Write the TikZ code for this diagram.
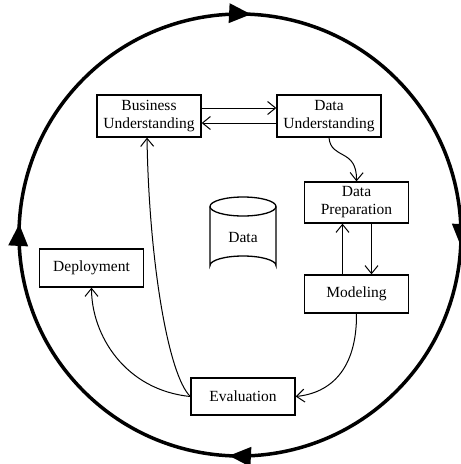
\documentclass[tikz,border=0pt]{standalone}
\usepackage{fontspec}
\setmainfont{Liberation Serif}
\usetikzlibrary{arrows.meta,decorations.markings}
\tikzset{ringtip/.tip={Triangle[length=22pt,width=19pt]}}
\begin{document}
\begin{tikzpicture}[x=1pt,y=-1pt,
  box/.style={draw, line width=1.3pt, minimum width=104pt, inner sep=0pt, align=center,
    font=\fontsize{15.5}{18}\selectfont},
  conn/.style={line width=1pt, -{Straight Barb[length=8pt,width=13pt,line width=1pt]}},
  ring/.style={line width=3.5pt, postaction={decorate}, decoration={markings,
    mark=at position 0.133 with {\arrow{ringtip}},
    mark=at position 0.383 with {\arrow{ringtip}},
    mark=at position 0.633 with {\arrow{ringtip}},
    mark=at position 0.883 with {\arrow{ringtip}}}}]
\useasboundingbox (0,0) rectangle (461,464);
\fill[white] (0,0) rectangle (461,464);
% outer cycle
\coordinate (c) at (240,235);
\draw[ring] (c) ++(45:221) arc[start angle=45, end angle=405, radius=221];
% boxes
\node[box, minimum height=42pt] (bu) at (149,116) {Business\\Understanding};
\node[box, minimum height=42pt] (du) at (329,116) {Data\\Understanding};
\node[box, minimum height=41pt] (dp) at (356.5,202.5) {Data\\Preparation};
\node[box, minimum height=38pt] (mo) at (356.5,294) {Modeling};
\node[box, minimum height=38pt] (de) at (91.5,268) {Deployment};
\node[box, minimum height=37pt] (ev) at (243,396.5) {Evaluation};
% data cylinder
\draw[line width=1.3pt] (210,206.5) -- (210,265.5) arc[start angle=180, end angle=0, x radius=33, y radius=-9.5] -- (276,206.5);
\draw[line width=1.3pt] (243,206.5) ellipse[x radius=33, y radius=9.5];
\node[font=\fontsize{15.5}{18}\selectfont] (data) at (243,237) {Data};
% connectors
\coordinate (du1) at (331,160);
\coordinate (du2) at (357,148);
\draw[conn] ([yshift=8pt]bu.east) -- ([yshift=8pt]du.west);
\draw[conn] ([yshift=-7pt]du.west) -- ([yshift=-7pt]bu.east);
\draw[conn] (du.south) .. controls (du1) and (du2) .. (dp.north);
\draw[conn] ([xshift=15pt]dp.south) -- ([xshift=15pt]mo.north);
\draw[conn] ([xshift=-14pt]mo.north) -- ([xshift=-14pt]dp.south);
\draw[conn] (mo.south) .. controls (357,370) and (330,393) .. (ev.east);
\draw[conn] (ev.west) .. controls (125,390) and (91.5,335) .. (de.south);
\draw[conn] (ev.west) .. controls (168,375) and (149,260) .. ([xshift=-2pt]bu.south);
\end{tikzpicture}
\end{document}
